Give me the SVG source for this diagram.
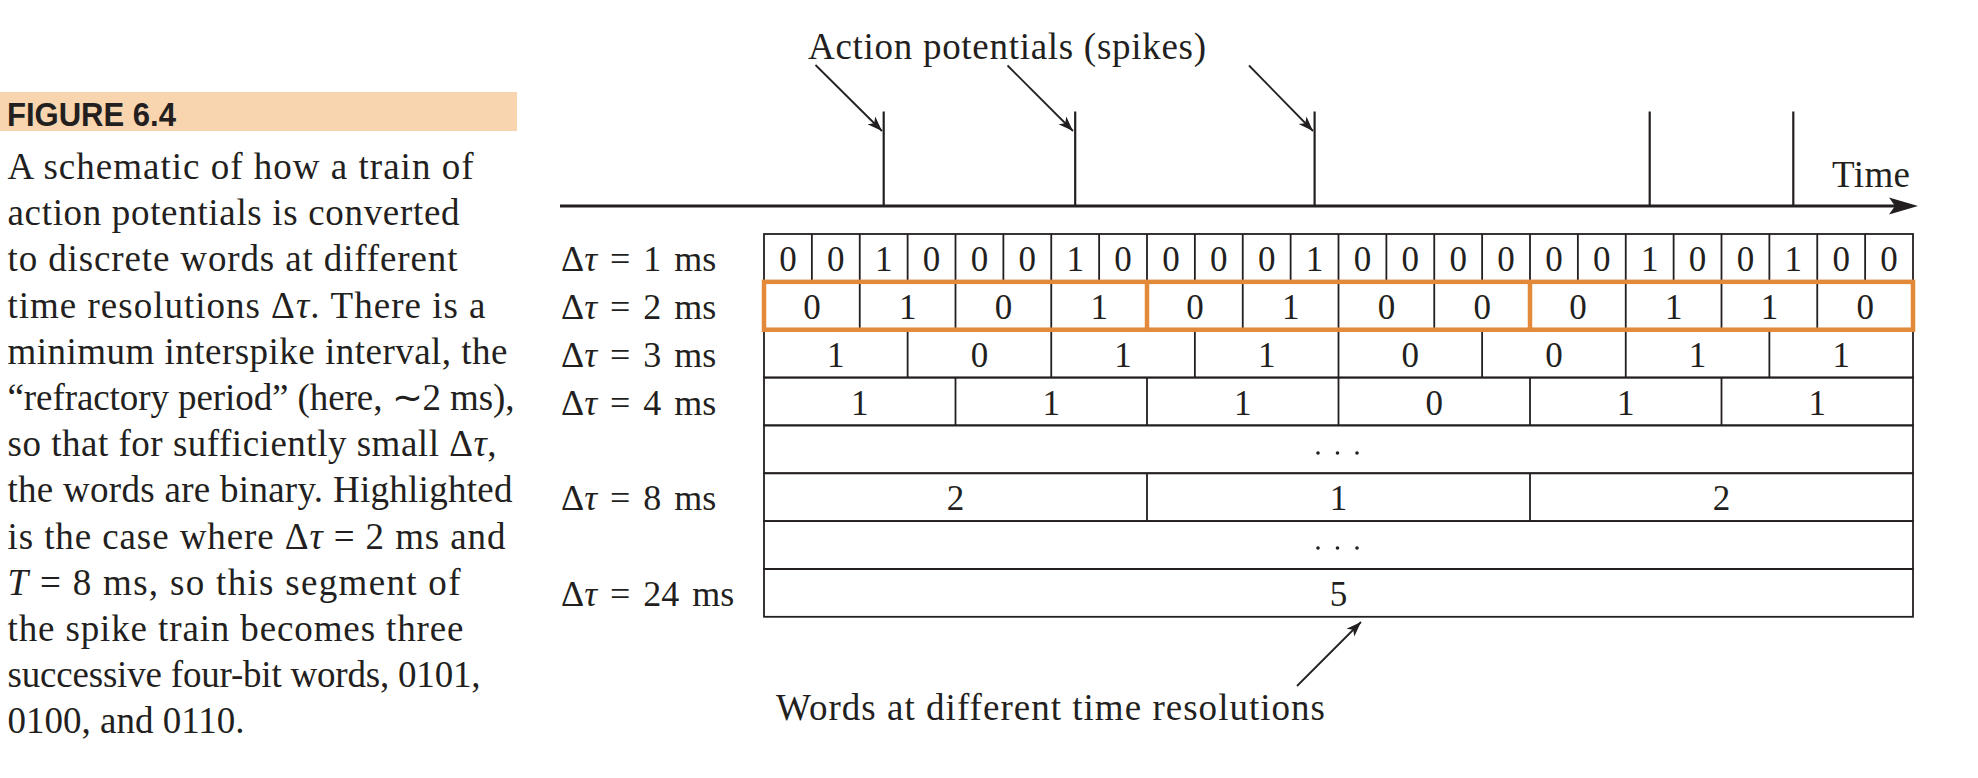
<svg xmlns="http://www.w3.org/2000/svg" width="1978" height="778" viewBox="0 0 1978 778">
<defs>
<marker id="ah" markerUnits="userSpaceOnUse" markerWidth="16" markerHeight="12" refX="15" refY="6" orient="auto">
<path d="M0,0.5 L15,6 L0,11.5 L4,6 z" fill="#231f20"/>
</marker>
<style>
.cap{font-family:"Liberation Serif",serif;font-size:37px;fill:#231f20}
.lbl{font-family:"Liberation Serif",serif;font-size:36px;fill:#231f20;word-spacing:4px}
.dig{font-family:"Liberation Serif",serif;font-size:35px;fill:#231f20;text-anchor:middle}
.ttl{font-family:"Liberation Serif",serif;font-size:37px;fill:#231f20}
.it{font-style:italic}
.cell{fill:none;stroke:#231f20;stroke-width:1.8}
.sep{stroke:#231f20;stroke-width:1.8}
.hl{fill:none;stroke:#e2893a;stroke-width:4.5}
.spike{stroke:#231f20;stroke-width:2.2}
.conn{stroke:#231f20;stroke-width:1.8;fill:none;marker-end:url(#ah)}
</style>
</defs>
<rect width="1978" height="778" fill="#ffffff"/>

<g id="caption">
<rect x="0" y="92" width="517" height="39" fill="#f8d5ae"/>
<text x="7" y="125.5" font-family="'Liberation Sans',Arial,sans-serif" font-weight="bold" font-size="34" fill="#231f20" textLength="169" lengthAdjust="spacingAndGlyphs">FIGURE 6.4</text>
<text class="cap" x="7.5" y="179" textLength="466" lengthAdjust="spacing">A schematic of how a train of</text>
<text class="cap" x="7.5" y="225.2" textLength="452" lengthAdjust="spacing">action potentials is converted</text>
<text class="cap" x="7.5" y="271.4" textLength="450" lengthAdjust="spacing">to discrete words at different</text>
<text class="cap" x="7.5" y="317.6" textLength="478" lengthAdjust="spacing">time resolutions Δ<tspan class="it">τ</tspan>. There is a</text>
<text class="cap" x="7.5" y="363.8" textLength="500" lengthAdjust="spacing">minimum interspike interval, the</text>
<text class="cap" x="7.5" y="410" textLength="507" lengthAdjust="spacing">“refractory period” (here, ∼2 ms),</text>
<text class="cap" x="7.5" y="456.2" textLength="489" lengthAdjust="spacing">so that for sufficiently small Δ<tspan class="it">τ</tspan>,</text>
<text class="cap" x="7.5" y="502.4" textLength="505" lengthAdjust="spacing">the words are binary. Highlighted</text>
<text class="cap" x="7.5" y="548.6" textLength="498" lengthAdjust="spacing">is the case where Δ<tspan class="it">τ</tspan> = 2 ms and</text>
<text class="cap" x="7.5" y="594.8" textLength="453" lengthAdjust="spacing"><tspan class="it">T</tspan> = 8 ms, so this segment of</text>
<text class="cap" x="7.5" y="641" textLength="456" lengthAdjust="spacing">the spike train becomes three</text>
<text class="cap" x="7.5" y="687.2" textLength="473" lengthAdjust="spacing">successive four-bit words, 0101,</text>
<text class="cap" x="7.5" y="733.4">0100, and 0110.</text>
</g>

<g id="spike-train">
<line x1="560" y1="206" x2="1900" y2="206" stroke="#231f20" stroke-width="3"/>
<path d="M1918,206 L1889,197.5 L1895,206 L1889,214.5 z" fill="#231f20"/>
<line class="spike" x1="883.7" y1="111.5" x2="883.7" y2="206"/>
<line class="spike" x1="1075.2" y1="111.5" x2="1075.2" y2="206"/>
<line class="spike" x1="1314.6" y1="111.5" x2="1314.6" y2="206"/>
<line class="spike" x1="1649.7" y1="111.5" x2="1649.7" y2="206"/>
<line class="spike" x1="1793.3" y1="111.5" x2="1793.3" y2="206"/>
<text class="ttl" x="1832" y="187" font-size="36" textLength="78" lengthAdjust="spacing">Time</text>
</g>

<g id="title-spikes">
<text class="ttl" x="808" y="59" textLength="398" lengthAdjust="spacing">Action potentials (spikes)</text>
</g>

<g id="title-words">
<text class="ttl" x="776" y="720" textLength="549" lengthAdjust="spacing">Words at different time resolutions</text>
</g>

<g id="labels">
<text class="lbl" x="561" y="271">Δ<tspan class="it">τ</tspan> = 1 ms</text>
<text class="lbl" x="561" y="319">Δ<tspan class="it">τ</tspan> = 2 ms</text>
<text class="lbl" x="561" y="366.8">Δ<tspan class="it">τ</tspan> = 3 ms</text>
<text class="lbl" x="561" y="414.6">Δ<tspan class="it">τ</tspan> = 4 ms</text>
<text class="lbl" x="561" y="510.3">Δ<tspan class="it">τ</tspan> = 8 ms</text>
<text class="lbl" x="561" y="606">Δ<tspan class="it">τ</tspan> = 24 ms</text>
</g>

<g id="row-1ms">
<rect class="cell" x="764" y="234" width="1149" height="47.85"/>
<path class="sep" d="M811.875,234V281.85M859.75,234V281.85M907.625,234V281.85M955.5,234V281.85M1003.375,234V281.85M1051.25,234V281.85M1099.125,234V281.85M1147,234V281.85M1194.875,234V281.85M1242.75,234V281.85M1290.625,234V281.85M1338.5,234V281.85M1386.375,234V281.85M1434.25,234V281.85M1482.125,234V281.85M1530,234V281.85M1577.875,234V281.85M1625.75,234V281.85M1673.625,234V281.85M1721.5,234V281.85M1769.375,234V281.85M1817.25,234V281.85M1865.125,234V281.85"/>
<text class="dig" x="787.94" y="271">0</text><text class="dig" x="835.81" y="271">0</text><text class="dig" x="883.69" y="271">1</text><text class="dig" x="931.56" y="271">0</text>
<text class="dig" x="979.44" y="271">0</text><text class="dig" x="1027.31" y="271">0</text><text class="dig" x="1075.19" y="271">1</text><text class="dig" x="1123.06" y="271">0</text>
<text class="dig" x="1170.94" y="271">0</text><text class="dig" x="1218.81" y="271">0</text><text class="dig" x="1266.69" y="271">0</text><text class="dig" x="1314.56" y="271">1</text>
<text class="dig" x="1362.44" y="271">0</text><text class="dig" x="1410.31" y="271">0</text><text class="dig" x="1458.19" y="271">0</text><text class="dig" x="1506.06" y="271">0</text>
<text class="dig" x="1553.94" y="271">0</text><text class="dig" x="1601.81" y="271">0</text><text class="dig" x="1649.69" y="271">1</text><text class="dig" x="1697.56" y="271">0</text>
<text class="dig" x="1745.44" y="271">0</text><text class="dig" x="1793.31" y="271">1</text><text class="dig" x="1841.19" y="271">0</text><text class="dig" x="1889.06" y="271">0</text>
</g>

<g id="row-3ms">
<rect class="cell" x="764" y="329.7" width="1149" height="47.85"/>
<path class="sep" d="M907.625,329.7V377.55M1051.25,329.7V377.55M1194.875,329.7V377.55M1338.5,329.7V377.55M1482.125,329.7V377.55M1625.75,329.7V377.55M1769.375,329.7V377.55"/>
<text class="dig" x="835.8" y="366.7">1</text><text class="dig" x="979.4" y="366.7">0</text><text class="dig" x="1123.1" y="366.7">1</text><text class="dig" x="1266.7" y="366.7">1</text>
<text class="dig" x="1410.3" y="366.7">0</text><text class="dig" x="1553.9" y="366.7">0</text><text class="dig" x="1697.6" y="366.7">1</text><text class="dig" x="1841.2" y="366.7">1</text>
</g>

<g id="row-4ms">
<rect class="cell" x="764" y="377.55" width="1149" height="47.85"/>
<path class="sep" d="M955.5,377.55V425.4M1147,377.55V425.4M1338.5,377.55V425.4M1530,377.55V425.4M1721.5,377.55V425.4"/>
<text class="dig" x="859.75" y="414.5">1</text><text class="dig" x="1051.25" y="414.5">1</text><text class="dig" x="1242.75" y="414.5">1</text>
<text class="dig" x="1434.25" y="414.5">0</text><text class="dig" x="1625.75" y="414.5">1</text><text class="dig" x="1817.25" y="414.5">1</text>
</g>

<g id="row-dots-1">
<rect class="cell" x="764" y="425.4" width="1149" height="47.85"/>
<circle cx="1318" cy="453" r="1.8" fill="#231f20"/><circle cx="1337.5" cy="453" r="1.8" fill="#231f20"/><circle cx="1357" cy="453" r="1.8" fill="#231f20"/>
</g>

<g id="row-8ms">
<rect class="cell" x="764" y="473.25" width="1149" height="47.85"/>
<path class="sep" d="M1147,473.25V521.1M1530,473.25V521.1"/>
<text class="dig" x="955.5" y="510.3">2</text><text class="dig" x="1338.5" y="510.3">1</text><text class="dig" x="1721.5" y="510.3">2</text>
</g>

<g id="row-dots-2">
<rect class="cell" x="764" y="521.1" width="1149" height="47.85"/>
<circle cx="1318" cy="548" r="1.8" fill="#231f20"/><circle cx="1337.5" cy="548" r="1.8" fill="#231f20"/><circle cx="1357" cy="548" r="1.8" fill="#231f20"/>
</g>

<g id="row-24ms">
<rect class="cell" x="764" y="568.95" width="1149" height="47.85"/>
<text class="dig" x="1338.5" y="606">5</text>
</g>

<g id="row-2ms">
<rect class="cell" x="764" y="281.85" width="1149" height="47.85"/>
<path class="sep" d="M859.75,281.85V329.7M955.5,281.85V329.7M1051.25,281.85V329.7M1242.75,281.85V329.7M1338.5,281.85V329.7M1434.25,281.85V329.7M1625.75,281.85V329.7M1721.5,281.85V329.7M1817.25,281.85V329.7"/>
<rect class="hl" x="764" y="281.85" width="1149" height="47.85"/>
<path class="hl" d="M1147,281.85V329.7M1530,281.85V329.7"/>
<text class="dig" x="811.875" y="319">0</text><text class="dig" x="907.625" y="319">1</text><text class="dig" x="1003.375" y="319">0</text><text class="dig" x="1099.125" y="319">1</text>
<text class="dig" x="1194.875" y="319">0</text><text class="dig" x="1290.625" y="319">1</text><text class="dig" x="1386.375" y="319">0</text><text class="dig" x="1482.125" y="319">0</text>
<text class="dig" x="1577.875" y="319">0</text><text class="dig" x="1673.625" y="319">1</text><text class="dig" x="1769.375" y="319">1</text><text class="dig" x="1865.125" y="319">0</text>
</g>

<g id="connectors">
<line class="conn" x1="815.5" y1="65" x2="882" y2="131"/>
<line class="conn" x1="1007.5" y1="65.5" x2="1073" y2="131"/>
<line class="conn" x1="1249" y1="65.5" x2="1313" y2="131"/>
<line class="conn" x1="1297" y1="686" x2="1361" y2="622"/>
</g>
</svg>
